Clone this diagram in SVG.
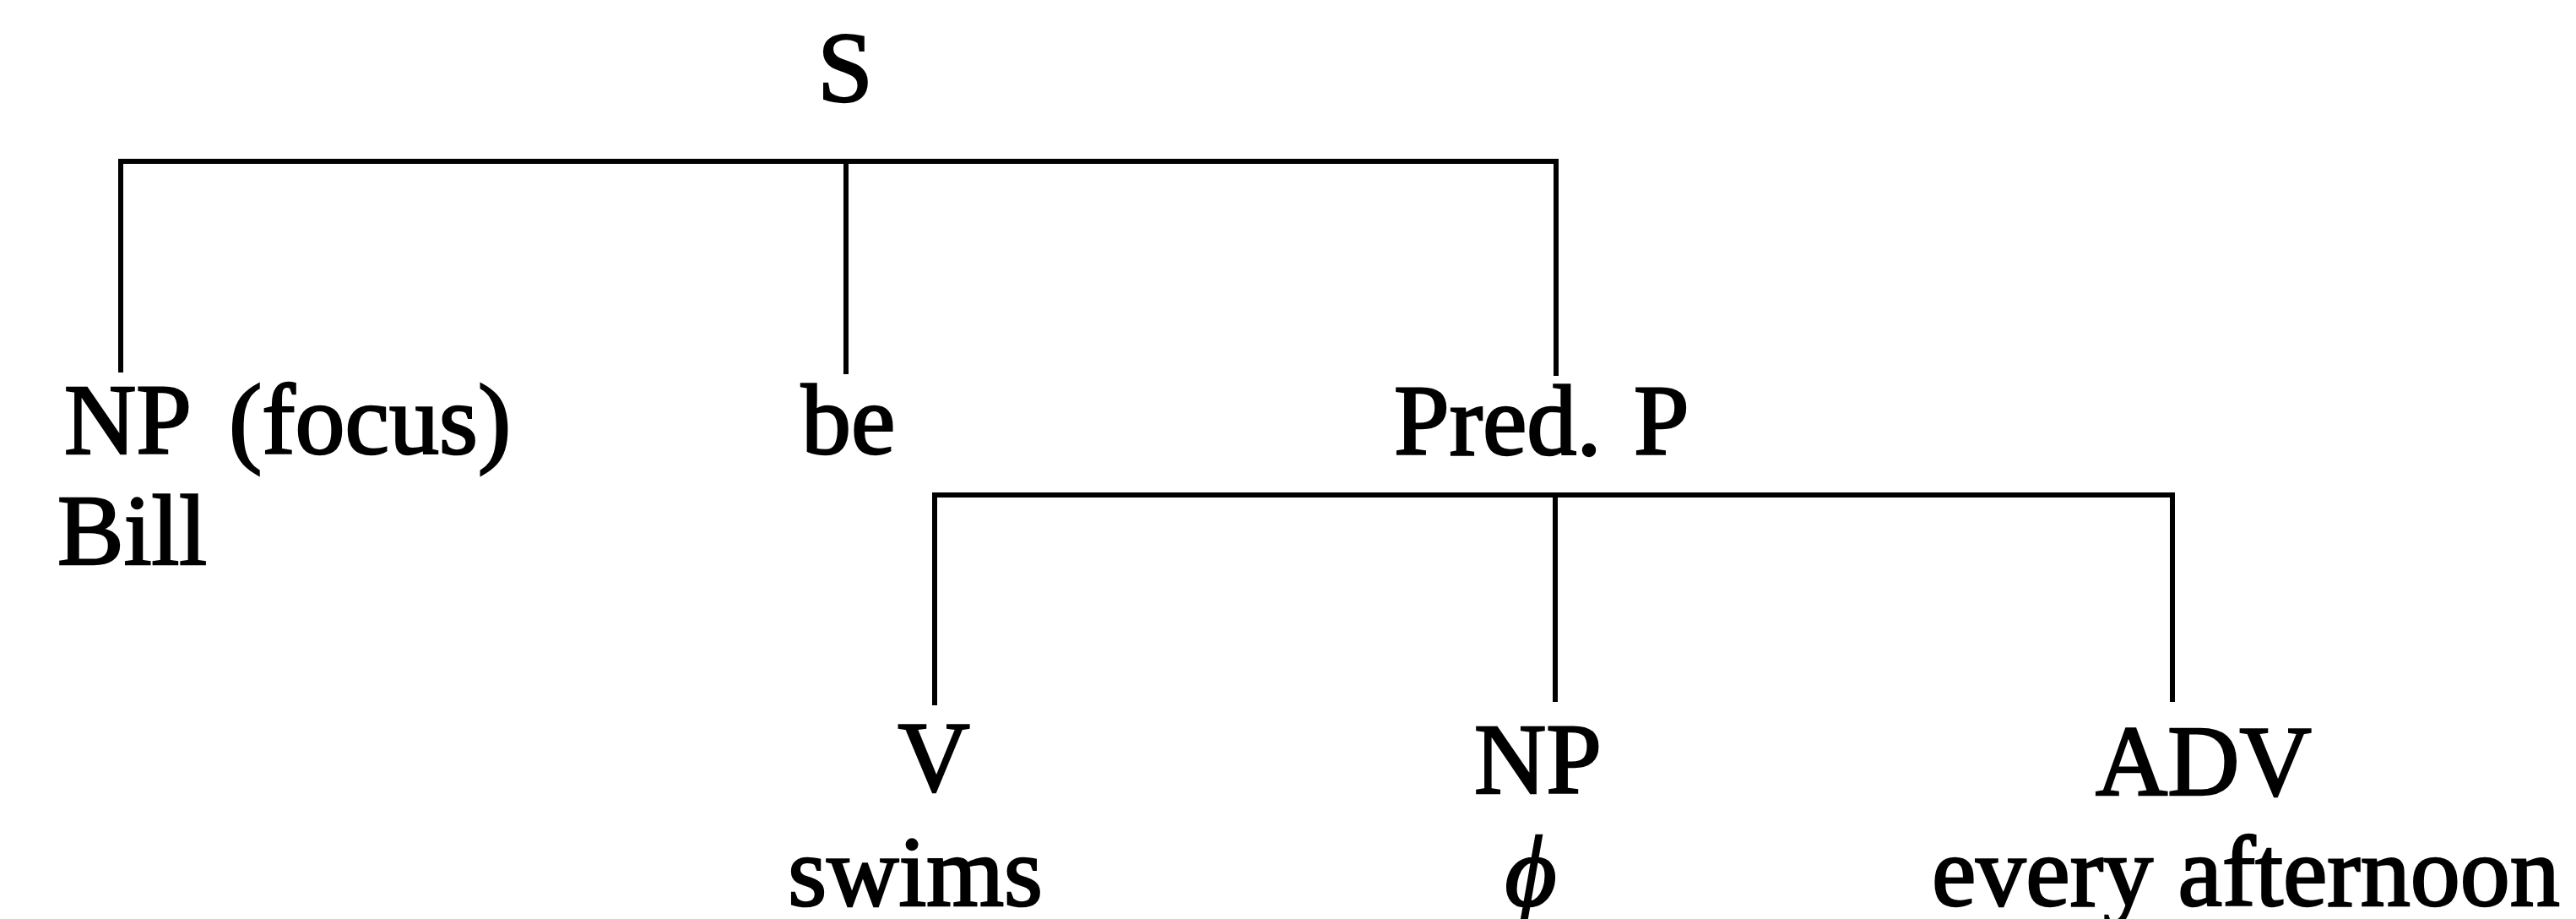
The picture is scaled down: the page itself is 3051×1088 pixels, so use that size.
<svg xmlns="http://www.w3.org/2000/svg" width="3051" height="1088" viewBox="0 0 3051 1088">
<style>
  text { font-family: "Liberation Serif", "Times New Roman", serif; font-size: 118px; fill: #000; stroke: #000; stroke-width: 2.5px; }
  .conn { stroke: #000; stroke-width: 6; fill: none; stroke-linecap: square; stroke-linejoin: miter; }
  .it { font-style: italic; }
</style>
<rect width="3051" height="1088" fill="#fff"/>
<g id="connectors">
  <path class="conn" d="M143,438 V191 H1843 V442"/>
  <path class="conn" d="M1002,191 V440"/>
  <path class="conn" d="M1107,832 V586 H2573 V828"/>
  <path class="conn" d="M1842,586 V828"/>
</g>
<g id="node-S"><text x="1001" y="120" text-anchor="middle">S</text></g>
<g id="node-NP-focus">
  <text y="537"><tspan x="76">NP</tspan><tspan x="271">(focus)</tspan></text>
  <text x="68" y="668">Bill</text>
</g>
<g id="node-be"><text x="949" y="537">be</text></g>
<g id="node-PredP"><text y="538"><tspan x="1651">Pred.</tspan><tspan x="1935">P</tspan></text></g>
<g id="node-V">
  <text x="1106" y="936" text-anchor="middle">V</text>
  <text x="1235" y="1072" text-anchor="end">swims</text>
</g>
<g id="node-NP2">
  <text x="1746" y="939">NP</text>
  <text class="it" x="1813" y="1072" text-anchor="middle">ϕ</text>
</g>
<g id="node-ADV">
  <text x="2482" y="941">ADV</text>
  <text x="2288" y="1072">every afternoon</text>
</g>
</svg>
